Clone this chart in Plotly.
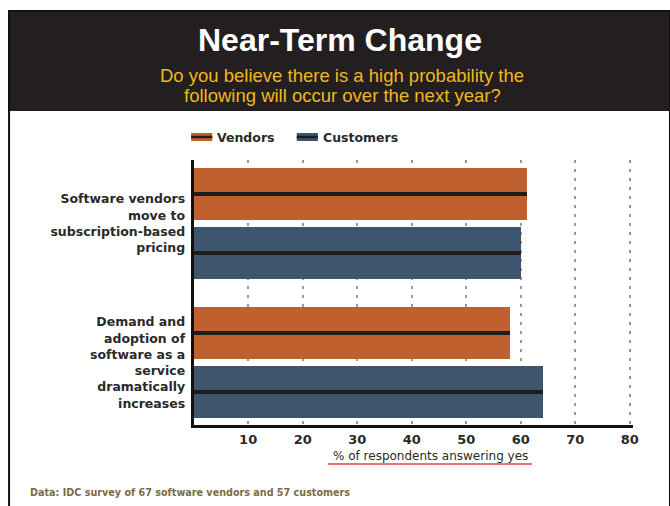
import plotly.graph_objects as go

# ---- data ----
categories = [
    "Software vendors<br>move to<br>subscription-based<br>pricing",
    "Demand and<br>adoption of<br>software as a<br>service<br>dramatically<br>increases",
]
series_names = ["Vendors", "Customers"]
vendors = [61, 58]
customers = [60, 64]
x_ticks = [10, 20, 30, 40, 50, 60, 70, 80]

title = "Near-Term Change"
subtitle_lines = ["Do you believe there is a high probability the",
                  "following will occur over the next year?"]
x_title = "% of respondents answering yes"
footer = "Data: IDC survey of 67 software vendors and 57 customers"

# ---- style ----
W_FIG, H = 680, 506      # canvas size
W_REF = 670              # reference coordinate width
ORANGE = "#C0602F"
BLUE = "#3D566E"
DARK = "#231F20"
YELLOW = "#F0B81C"
OLIVE = "#7A6D44"
TXT = "#2a2a2a"
FONT = "DejaVu Sans"

def px(x):
    return x / W_REF

def py(y):
    return 1 - y / H

BAR_W = 0.371
OFF = 0.212
LINE_W = 0.03
X_MAX = 80.6
X0_PX, PX_PER_UNIT = 192.5, 5.419

idx = list(range(len(categories)))
y_v = [i - OFF for i in idx]
y_c = [i + OFF for i in idx]

fig = go.Figure()
for vals, ys, col in [(vendors, y_v, ORANGE), (customers, y_c, BLUE)]:
    fig.add_trace(go.Bar(x=vals, y=ys, orientation="h", width=BAR_W,
                         marker=dict(color=col, line=dict(width=0)),
                         showlegend=False, hoverinfo="x"))
    fig.add_trace(go.Bar(x=vals, y=ys, orientation="h", width=LINE_W,
                         marker=dict(color="#1e1e1e", line=dict(width=0)),
                         showlegend=False, hoverinfo="skip"))

shapes = []
# frame border
shapes.append(dict(type="rect", xref="paper", yref="paper",
                   x0=px(9), x1=px(666), y0=py(11), y1=py(520),
                   line=dict(color="#111", width=2), fillcolor="rgba(0,0,0,0)", layer="above"))
# header band
shapes.append(dict(type="rect", xref="paper", yref="paper",
                   x0=px(8), x1=px(675), y0=py(11), y1=py(111),
                   line=dict(width=0), fillcolor=DARK, layer="below"))
# red underline of axis title
shapes.append(dict(type="line", xref="paper", yref="paper",
                   x0=px(326), x1=px(529), y0=py(464), y1=py(464),
                   line=dict(color="#E04545", width=1.5)))

annotations = []
annotations.append(dict(text=f"<b>{title}</b>", x=px(338), y=py(40), xref="paper", yref="paper",
                        showarrow=False, xanchor="center", yanchor="middle",
                        font=dict(family="Liberation Sans", size=32, color="white")))
for k, line in enumerate(subtitle_lines):
    annotations.append(dict(text=line, x=px(340), y=py(75 + 20 * k), xref="paper", yref="paper",
                            showarrow=False, xanchor="center", yanchor="middle",
                            font=dict(family="Liberation Sans", size=18.5, color=YELLOW)))
annotations.append(dict(text=x_title, x=px(427.5), y=py(456), xref="paper", yref="paper",
                        showarrow=False, xanchor="center", yanchor="middle",
                        font=dict(family=FONT, size=12, color=TXT)))
annotations.append(dict(text=footer, x=px(28), y=py(492), xref="paper", yref="paper",
                        showarrow=False, xanchor="left", yanchor="middle",
                        font=dict(family="DejaVu Sans Condensed, DejaVu Sans", size=10.7, color=OLIVE, weight="bold")))

# custom legend
legend_items = [(series_names[0], ORANGE, 190), (series_names[1], BLUE, 295)]
for name, col, x0 in legend_items:
    shapes.append(dict(type="rect", xref="paper", yref="paper",
                       x0=px(x0), x1=px(x0 + 21), y0=py(133), y1=py(141),
                       line=dict(width=0), fillcolor=col))
    shapes.append(dict(type="line", xref="paper", yref="paper",
                       x0=px(x0), x1=px(x0 + 21), y0=py(137), y1=py(137),
                       line=dict(color="#1e1e1e", width=2.5)))
    annotations.append(dict(text=name, x=px(x0 + 24), y=py(137.5), xref="paper", yref="paper",
                            showarrow=False, xanchor="left", yanchor="middle",
                            font=dict(family=FONT, size=12.5, color=TXT, weight="bold")))

fig.update_layout(
    width=W_FIG, height=H, autosize=False,
    margin=dict(l=0, r=0, t=0, b=0),
    paper_bgcolor="white", plot_bgcolor="white",
    barmode="overlay",
    bargap=0,
    shapes=shapes, annotations=annotations,
    showlegend=False,
    xaxis=dict(domain=[px(X0_PX), px(X0_PX + X_MAX * PX_PER_UNIT)], range=[0, X_MAX],
               tickvals=x_ticks, ticktext=[str(t) for t in x_ticks],
               showgrid=True, gridcolor="#9a9a9a", gridwidth=2, griddash="3px,6px",
               zeroline=False, showline=True, linecolor="#111", linewidth=3,
               ticks="", tickfont=dict(family=FONT, size=13, color=TXT, weight="bold"),
               fixedrange=True),
    yaxis=dict(domain=[py(425), py(160)], range=[1.449, -0.455],
               tickvals=idx, ticktext=categories,
               showgrid=False, zeroline=False, showline=True, linecolor="#111", linewidth=3,
               ticks="", ticklabelstandoff=3,
               tickfont=dict(family=FONT, size=12.5, color=TXT, weight="bold"),
               fixedrange=True),
)

fig.write_html("out.html", config={"responsive": False})
